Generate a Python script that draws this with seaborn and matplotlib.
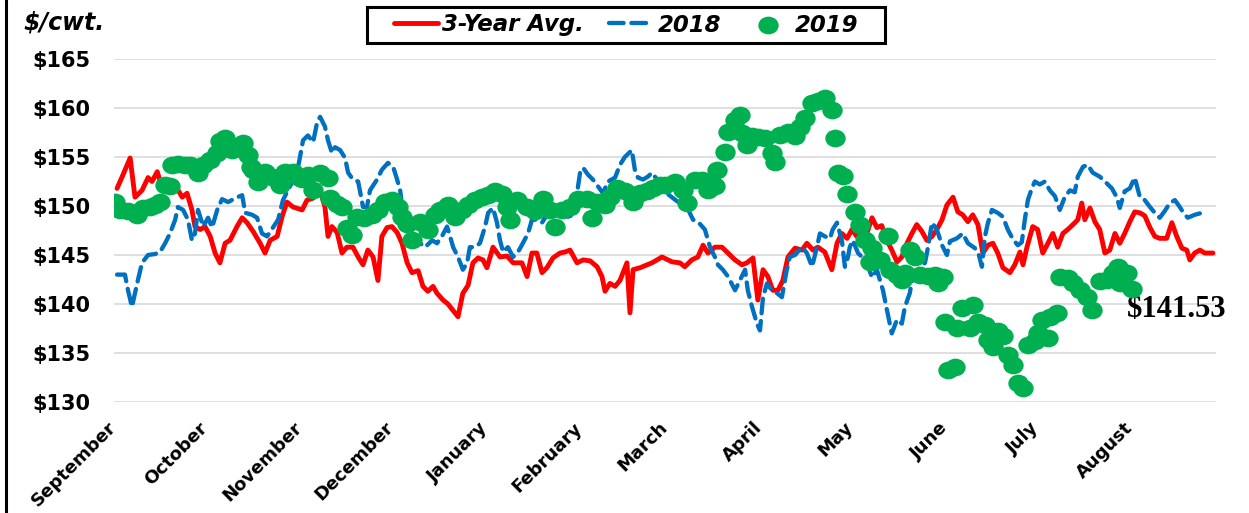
import matplotlib
matplotlib.use("Agg")
import matplotlib.pyplot as plt
import seaborn as sns
import pandas as pd
from matplotlib.path import Path
from matplotlib.lines import Line2D
from matplotlib.patches import Rectangle

# ---------------- data ----------------
months = ["September", "October", "November", "December", "January", "February",
          "March", "April", "May", "June", "July", "August"]
month_start_day = [0, 30, 61, 91, 122, 153, 181, 212, 242, 273, 303, 334]
y_ticks = [130, 135, 140, 145, 150, 155, 160, 165]

avg_day = [-1.0, 0.7, 3.3, 4.9, 7.2, 9.2, 10.5, 12.2, 13.1, 15.8,
           18.7, 20.4, 22.0, 23.6, 24.6, 26.3, 27.9, 29.6, 31.2, 32.8,
           34.5, 36.1, 38.4, 40.1, 41.7, 43.7, 46.0, 47.6, 49.3, 51.6,
           53.2, 54.8, 56.8, 59.8, 61.4, 63.4, 65.7, 67.3, 68.3, 69.6,
           71.3, 72.9, 74.5, 76.5, 78.2, 79.8, 81.4, 83.1, 84.7, 86.0,
           87.7, 89.3, 91.0, 92.6, 94.3, 95.9, 97.9, 99.5, 101.1, 102.8,
           104.1, 106.1, 107.7, 111.0, 112.6, 114.3, 115.9, 117.6, 119.2, 120.5,
           122.5, 124.8, 127.1, 129.1, 132.0, 133.7, 135.3, 136.9, 138.6, 140.2,
           142.2, 144.5, 146.1, 147.8, 150.1, 152.1, 154.4, 156.7, 158.3, 159.3,
           160.9, 162.6, 164.2, 166.5, 167.5, 168.5, 170.8, 173.1, 174.7, 176.4,
           178.0, 180.0, 181.3, 183.9, 185.5, 187.8, 189.8, 191.5, 193.1, 195.4,
           197.7, 199.7, 202.0, 204.3, 205.9, 207.9, 209.5, 211.2, 212.8, 214.4,
           216.1, 217.7, 219.4, 221.7, 224.0, 225.6, 227.6, 229.2, 231.5, 233.8,
           235.5, 237.1, 238.8, 240.4, 242.0, 243.7, 245.3, 247.0, 248.6, 250.2,
           251.9, 253.5, 255.2, 256.8, 258.5, 260.1, 261.7, 263.4, 265.0, 266.7,
           268.3, 270.0, 271.6, 273.6, 275.2, 276.8, 278.5, 280.1, 281.8, 283.4,
           285.1, 286.7, 288.3, 290.0, 292.3, 293.9, 295.6, 296.6, 297.9, 299.8,
           301.4, 303.1, 304.8, 306.4, 308.0, 309.7, 311.3, 313.0, 314.6, 315.9,
           316.9, 318.6, 320.2, 321.8, 323.5, 325.1, 326.8, 328.4, 330.0, 331.7,
           333.3, 335.0, 336.6, 338.3, 339.9, 341.5, 343.8, 345.5, 347.1, 348.8,
           350.4, 351.4, 353.0, 354.7, 356.3, 359.0]
avg_price = [151.8, 153.0, 154.9, 150.9, 151.6, 152.9, 152.5, 153.5, 152.6, 152.1,
             151.8, 150.9, 151.3, 149.6, 147.9, 147.6, 147.9, 146.9, 145.2, 144.2,
             146.2, 146.5, 147.9, 148.8, 148.3, 147.4, 146.2, 145.2, 146.5, 146.9,
             148.9, 150.4, 149.9, 149.6, 150.6, 150.8, 151.6, 149.9, 146.9, 147.9,
             147.3, 145.2, 145.8, 145.8, 144.8, 144.0, 145.5, 144.8, 142.4, 146.9,
             147.8, 147.9, 147.3, 146.2, 144.2, 143.2, 143.4, 141.8, 141.3, 141.8,
             141.1, 140.4, 140.0, 138.7, 141.1, 141.9, 144.2, 144.7, 144.5, 143.7,
             145.8, 144.8, 144.9, 144.2, 144.2, 142.8, 145.2, 145.2, 143.2, 143.7,
             144.7, 145.2, 145.3, 145.5, 144.2, 144.5, 144.4, 143.8, 142.8, 141.3,
             142.1, 141.8, 142.4, 144.2, 139.1, 143.5, 143.7, 144.0, 144.2, 144.5,
             144.8, 144.5, 144.3, 144.2, 143.8, 144.5, 144.8, 146.0, 145.2, 145.8,
             145.8, 145.2, 144.5, 144.0, 144.2, 144.7, 140.4, 143.5, 142.8, 141.4,
             141.4, 142.4, 144.8, 145.7, 145.5, 146.2, 145.5, 145.8, 145.3, 143.5,
             146.2, 147.2, 146.7, 147.6, 146.9, 147.7, 147.2, 148.8, 147.8, 148.0,
             146.5, 145.5, 144.3, 144.8, 146.2, 147.2, 148.1, 147.4, 146.5, 146.9,
             147.6, 148.6, 150.1, 150.9, 149.4, 149.1, 148.4, 149.1, 148.1, 145.2,
             146.0, 146.2, 145.2, 143.7, 143.2, 144.0, 145.3, 144.0, 145.8, 147.9,
             147.6, 145.2, 146.2, 147.2, 145.8, 147.2, 147.6, 148.1, 148.6, 150.3,
             148.6, 149.8, 148.4, 147.6, 145.2, 145.5, 147.2, 146.2, 147.2, 148.4,
             149.4, 149.3, 149.0, 147.8, 146.9, 146.7, 146.7, 148.3, 146.9, 145.7,
             145.5, 144.5, 145.2, 145.5, 145.2, 145.2]

y2018_day = [-1.0, 1.6, 2.6, 3.9, 5.6, 7.2, 9.2, 11.5, 13.1, 14.8,
             16.4, 18.1, 19.0, 20.7, 22.3, 23.6, 24.6, 25.6, 27.3, 28.9,
             30.2, 31.9, 33.5, 35.5, 37.8, 40.1, 41.1, 43.4, 45.0, 46.6,
             48.3, 50.2, 51.9, 53.5, 55.8, 58.1, 59.1, 60.1, 61.7, 63.4,
             64.7, 65.7, 67.3, 68.3, 69.6, 70.6, 72.3, 73.9, 74.9, 76.5,
             78.2, 79.8, 81.1, 82.1, 84.4, 86.0, 88.0, 89.7, 91.0, 92.0,
             92.9, 94.6, 96.2, 98.5, 100.2, 102.5, 104.1, 105.7, 107.4, 108.4,
             109.4, 111.0, 112.6, 114.0, 114.9, 116.6, 118.2, 119.9, 120.9, 122.5,
             123.8, 124.8, 125.8, 127.4, 129.1, 130.7, 132.3, 134.0, 135.3, 136.9,
             138.6, 140.2, 141.9, 143.5, 145.5, 147.1, 148.8, 150.1, 151.1, 152.1,
             153.7, 155.3, 157.0, 158.6, 160.3, 162.6, 164.2, 165.8, 168.1, 169.1,
             170.1, 171.8, 173.4, 174.7, 176.4, 178.0, 179.6, 182.9, 186.2, 188.2,
             189.8, 192.1, 193.8, 195.4, 196.4, 198.0, 199.7, 202.0, 203.6, 205.3,
             206.2, 207.6, 209.2, 210.2, 211.2, 212.5, 214.1, 215.8, 217.4, 219.0,
             220.0, 221.7, 224.0, 225.6, 227.3, 228.9, 229.9, 231.5, 233.2, 234.1,
             235.5, 237.1, 238.1, 239.1, 239.7, 240.7, 242.4, 243.7, 245.3, 247.0,
             248.6, 250.6, 251.9, 253.5, 255.2, 256.8, 257.8, 259.4, 260.4, 262.1,
             264.4, 265.4, 266.7, 268.3, 270.0, 271.6, 272.6, 274.9, 276.8, 278.5,
             280.8, 282.1, 283.1, 284.1, 285.1, 286.4, 288.3, 290.0, 291.6, 293.3,
             294.9, 296.2, 297.2, 298.2, 299.5, 300.5, 302.1, 303.8, 305.4, 307.1,
             308.7, 310.3, 312.0, 313.6, 314.6, 316.3, 317.9, 319.5, 321.8, 323.5,
             325.8, 327.4, 328.4, 330.0, 331.7, 333.3, 335.0, 336.6, 338.3, 339.9,
             341.5, 343.2, 344.8, 346.5, 348.1, 349.1, 350.7, 353.0, 355.3]
y2018_price = [143.0, 143.0, 141.4, 139.7, 142.1, 144.2, 145.0, 145.1, 145.3, 146.2,
               147.2, 148.6, 149.9, 149.6, 148.6, 146.5, 147.2, 149.6, 147.9, 148.8,
               147.8, 149.6, 150.7, 150.4, 150.8, 151.1, 149.3, 149.1, 148.8, 147.2,
               146.9, 147.8, 148.6, 150.6, 152.0, 153.4, 155.0, 156.7, 157.2, 156.5,
               158.5, 159.1, 158.1, 156.7, 155.4, 156.0, 155.7, 154.9, 153.4, 152.7,
               152.5, 149.9, 149.9, 151.6, 152.7, 153.7, 154.4, 154.0, 152.7, 151.6,
               149.3, 148.0, 147.0, 146.2, 145.8, 146.5, 146.2, 146.9, 147.9, 146.9,
               145.8, 144.8, 143.5, 144.2, 145.8, 145.8, 146.2, 147.9, 149.3, 149.8,
               148.3, 146.5, 145.3, 145.8, 144.8, 145.3, 146.2, 147.2, 148.6, 148.6,
               148.3, 149.1, 149.6, 149.6, 149.3, 148.9, 149.1, 151.3, 153.4, 153.9,
               153.2, 152.7, 152.0, 151.3, 152.5, 152.9, 154.2, 155.0, 155.7, 153.7,
               152.9, 152.7, 153.0, 153.4, 152.7, 152.1, 151.3, 150.5, 149.9, 148.6,
               148.4, 147.6, 145.8, 144.8, 144.0, 143.5, 142.8, 141.4, 142.4, 143.5,
               141.4, 139.7, 138.0, 137.3, 140.7, 142.1, 141.4, 141.1, 140.7, 143.5,
               144.8, 145.0, 145.8, 145.2, 143.8, 145.8, 147.2, 146.9, 146.7, 147.6,
               148.3, 146.5, 143.8, 144.8, 145.8, 146.5, 145.2, 144.8, 144.2, 142.7,
               143.5, 141.4, 139.4, 137.0, 138.4, 138.0, 139.7, 141.1, 142.8, 143.5,
               144.2, 145.8, 148.3, 147.6, 146.0, 145.0, 146.4, 146.7, 147.2, 146.2,
               145.7, 145.0, 143.8, 146.9, 148.3, 149.6, 149.3, 148.9, 147.6, 146.6,
               146.0, 146.3, 148.6, 150.6, 151.8, 152.5, 152.2, 152.5, 151.6, 151.0,
               149.6, 150.9, 151.6, 151.4, 153.0, 154.0, 154.2, 153.4, 153.0, 152.5,
               151.8, 150.9, 149.8, 151.5, 151.8, 152.9, 150.9, 150.6, 149.9, 149.3,
               148.8, 149.5, 150.3, 150.6, 149.9, 149.4, 148.8, 149.1, 149.3]

y2019_day = [-1.6, 0.0, 2.6, 5.6, 7.6, 9.9, 11.5, 13.1, 14.8, 16.4,
             17.1, 19.0, 21.3, 23.0, 25.6, 27.3, 29.6, 31.9, 32.8, 34.5,
             36.8, 38.8, 40.4, 42.0, 43.0, 43.7, 45.3, 47.6, 49.9, 52.5,
             54.2, 56.8, 58.5, 59.8, 61.7, 63.4, 65.7, 68.3, 69.0, 71.3,
             72.9, 74.5, 76.2, 77.8, 80.1, 82.8, 84.7, 87.0, 89.3, 91.3,
             92.6, 94.3, 95.9, 98.5, 101.1, 103.4, 105.1, 107.7, 110.0, 112.3,
             114.3, 116.6, 118.9, 120.9, 123.2, 125.5, 127.1, 128.1, 130.4, 133.7,
             136.3, 138.9, 141.2, 142.9, 145.2, 147.8, 150.4, 153.3, 155.0, 156.7,
             159.3, 160.9, 163.2, 165.8, 168.5, 170.8, 173.1, 175.0, 177.3, 179.0,
             182.3, 184.9, 186.2, 188.8, 191.1, 193.1, 195.4, 196.1, 198.7, 199.7,
             202.0, 203.6, 204.3, 205.9, 207.6, 209.5, 211.8, 214.1, 215.1, 216.7,
             219.4, 221.7, 223.3, 225.0, 227.3, 229.2, 231.5, 233.8, 234.8, 235.8,
             237.4, 238.8, 241.4, 243.0, 244.6, 246.3, 247.0, 249.6, 252.2, 252.9,
             255.2, 256.8, 257.8, 259.4, 261.1, 262.7, 265.4, 267.7, 268.7, 270.3,
             271.0, 271.9, 274.2, 274.9, 276.5, 279.2, 280.1, 281.8, 284.1, 285.1,
             286.7, 288.3, 290.0, 291.6, 293.3, 294.9, 296.6, 298.2, 300.5, 301.5,
             302.8, 304.8, 305.4, 307.7, 308.7, 311.3, 313.0, 315.3, 317.6, 319.2,
             321.8, 324.1, 326.1, 327.7, 328.4, 330.7, 332.3]
y2019_price = [150.4, 149.6, 149.5, 149.1, 149.8, 149.9, 150.1, 150.4, 152.1, 152.0,
               154.2, 154.3, 154.2, 154.2, 153.4, 154.2, 154.7, 155.4, 156.6, 156.9,
               155.7, 156.0, 156.4, 155.2, 154.0, 153.7, 152.5, 153.5, 153.0, 152.1,
               153.5, 153.5, 153.0, 152.8, 153.2, 151.6, 153.4, 152.9, 150.8, 150.2,
               149.9, 147.8, 147.0, 148.9, 148.8, 149.1, 149.6, 150.4, 150.6, 149.9,
               148.9, 148.2, 146.5, 148.4, 147.6, 149.1, 149.6, 150.1, 148.9, 149.6,
               150.1, 150.6, 150.9, 151.1, 151.5, 151.2, 149.9, 148.6, 150.6, 149.9,
               149.5, 150.7, 149.6, 147.9, 149.6, 149.9, 150.7, 150.7, 148.8, 150.4,
               150.1, 150.9, 151.8, 151.5, 150.4, 151.3, 151.5, 151.8, 152.1, 152.1,
               152.5, 151.6, 150.3, 152.7, 152.7, 151.6, 152.0, 153.7, 155.5, 157.6,
               158.8, 159.3, 157.4, 156.2, 157.1, 157.0, 156.9, 155.4, 154.5, 157.2,
               157.6, 157.1, 158.1, 159.0, 160.5, 160.7, 161.0, 159.8, 156.9, 153.4,
               153.1, 151.2, 149.4, 148.1, 146.5, 144.3, 145.7, 144.5, 146.9, 143.5,
               143.0, 142.4, 143.2, 145.5, 144.8, 143.0, 142.9, 143.0, 142.1, 142.8,
               138.2, 133.3, 133.6, 137.6, 139.6, 137.6, 139.9, 138.2, 137.9, 136.3,
               135.6, 137.2, 136.7, 134.8, 133.8, 131.9, 131.4, 135.8, 136.2, 137.0,
               138.4, 136.5, 138.7, 139.1, 142.8, 142.7, 142.1, 141.4, 140.7, 139.4,
               142.3, 142.4, 143.2, 143.8, 142.1, 143.2, 141.53]

assert len(avg_day) == len(avg_price)
assert len(y2018_day) == len(y2018_price)
assert len(y2019_day) == len(y2019_price)

df_avg = pd.DataFrame({"day": avg_day, "price": avg_price})
df_18 = pd.DataFrame({"day": y2018_day, "price": y2018_price})
df_19 = pd.DataFrame({"day": y2019_day, "price": y2019_price})

# ---------------- style ----------------
sns.set_theme(style="white")
plt.rcParams["font.family"] = ["DejaVu Sans"]
plt.rcParams["text.color"] = "black"

W, H = 1249, 513
fig = plt.figure(figsize=(W / 100, H / 100), dpi=100)
fig.patch.set_facecolor("white")
ax = fig.add_axes([114 / W, 111 / H, (1216 - 114) / W, (454 - 111) / H])

RED = "#FF0000"
BLUE = "#0070C0"
GREEN = "#00B050"

sns.lineplot(data=df_avg, x="day", y="price", ax=ax, color=RED, lw=3.5,
             estimator=None, sort=False, label="3-Year Avg.", zorder=3)
sns.lineplot(data=df_18, x="day", y="price", ax=ax, color=BLUE, lw=3.1,
             estimator=None, sort=False, label="2018", zorder=4,
             linestyle=(0, (3.4, 1.8)), dash_capstyle="round")
circ = Path.unit_circle()
ellipse = Path(circ.vertices * [1.15, 1.0], circ.codes)
sns.scatterplot(data=df_19, x="day", y="price", ax=ax, color=GREEN, s=215,
                marker=ellipse, linewidth=0, label="2019", zorder=5)

ax.set_xlim(-2, 360)
ax.set_ylim(130, 165)
ax.set_yticks(y_ticks)
ax.set_yticklabels([f"${v}" for v in y_ticks], fontsize=15, fontweight="bold")
ax.set_xticks(month_start_day)
ax.set_xticklabels(months, rotation=45, ha="right", fontsize=13, fontweight="bold")
ax.tick_params(axis="y", length=0, pad=17, colors="black")
ax.tick_params(axis="x", length=0, pad=12, colors="black")
ax.set_xlabel("")
ax.set_ylabel("")
for sp in ax.spines.values():
    sp.set_visible(False)
ax.yaxis.grid(True, color="#d9d9d9", lw=1.2)
ax.xaxis.grid(False)
ax.set_axisbelow(True)

handles, labels = ax.get_legend_handles_labels()
if ax.get_legend() is not None:
    ax.get_legend().remove()
leg = fig.legend(handles, labels, loc="center", bbox_to_anchor=(626 / W, 1 - 25 / H),
                 ncol=3, frameon=False, handlelength=1.9, handletextpad=0.2,
                 columnspacing=1.1, borderpad=0.2,
                 prop={"weight": "bold", "style": "italic", "size": 16.5})
for t in leg.get_texts():
    t.set_color("black")
fig.patches.append(Rectangle((367 / W, 1 - 43 / H), (885 - 367) / W, 36 / H,
                             transform=fig.transFigure, fill=False,
                             edgecolor="black", lw=2.2))

fig.text(23 / W, 1 - 23 / H, "$/cwt.", fontsize=17, fontweight="bold",
         fontstyle="italic", ha="left", va="center", color="black")

ax.annotate(f"${y2019_price[-1]:.2f}", xy=(y2019_day[-1], y2019_price[-1]),
            xytext=(-5, -20), textcoords="offset pixels", ha="left", va="center",
            fontsize=22, fontweight="bold", family="Liberation Serif",
            color="black", annotation_clip=False)

fig.lines.append(Line2D([6 / W, 6 / W], [0, 1], transform=fig.transFigure,
                        color="black", lw=2.2))

fig.savefig("out.png", dpi=100)
